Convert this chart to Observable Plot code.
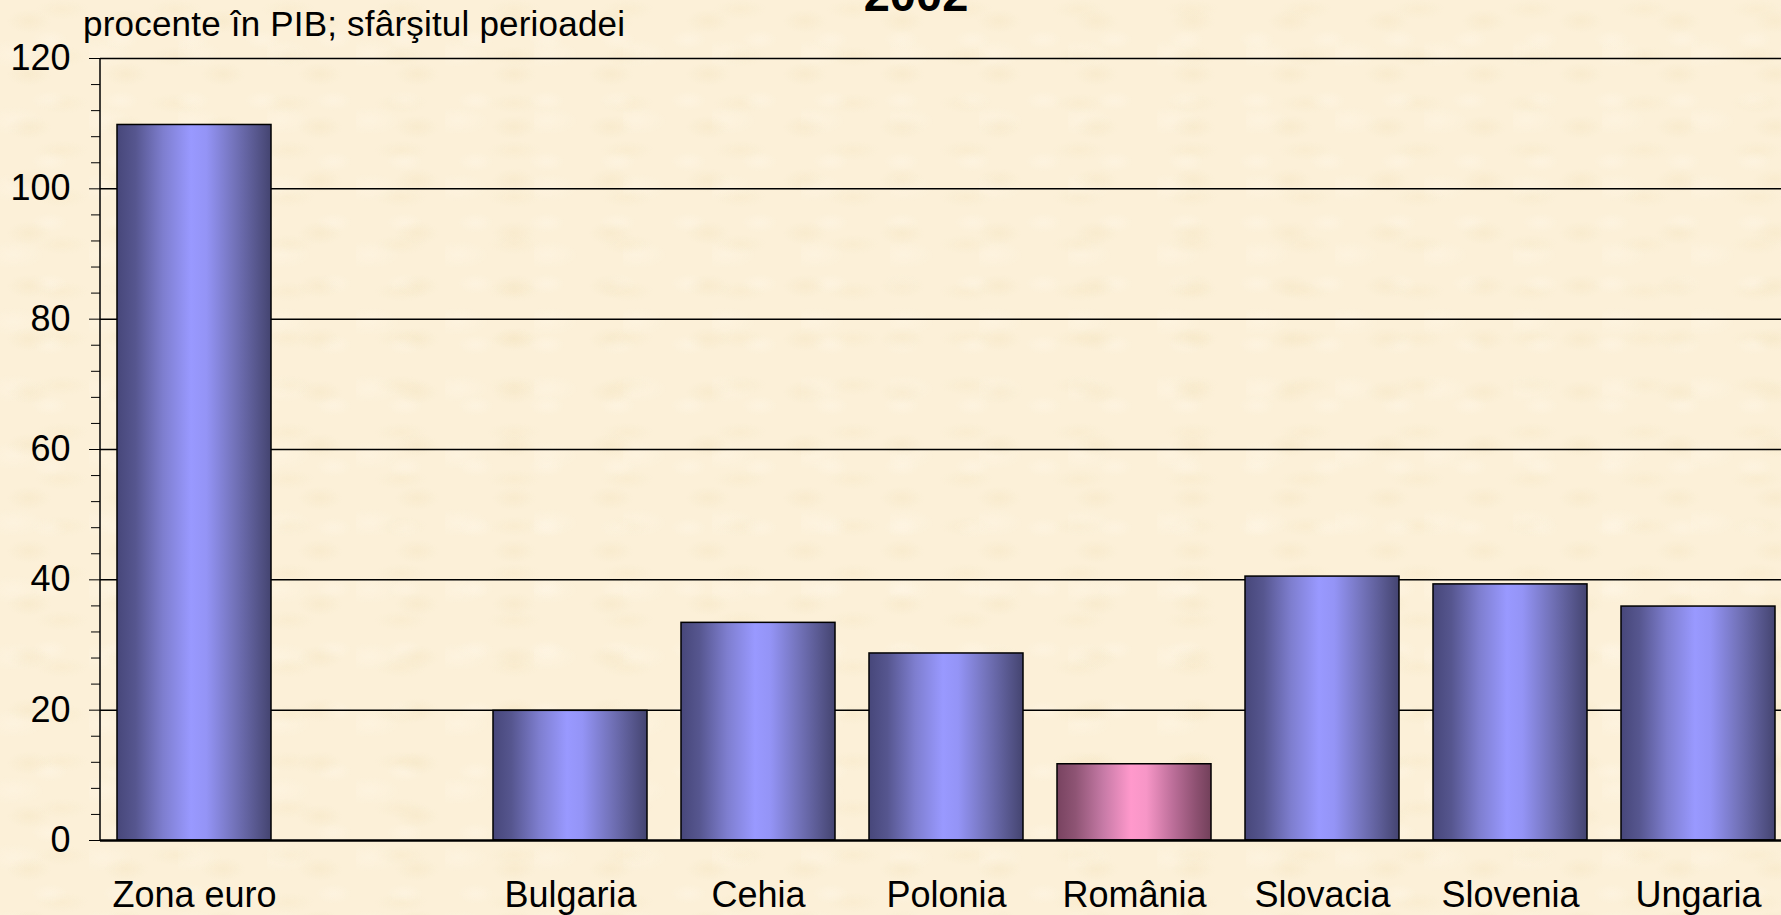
<!DOCTYPE html>
<html>
<head>
<meta charset="utf-8">
<script src="https://cdn.jsdelivr.net/npm/d3@7"></script>
<script src="https://cdn.jsdelivr.net/npm/@observablehq/plot@0.6"></script>
<style>
  html, body { margin: 0; padding: 0; overflow: hidden; }
  body {
    width: 1781px; height: 915px;
    font-family: "Liberation Sans", Arial, sans-serif;
    color: #000;
    background-color: #FCF0D8;
    background-image:
      radial-gradient(ellipse 22px 12px at 30% 40%, rgba(242,226,188,0.35), transparent),
      radial-gradient(ellipse 18px 10px at 70% 65%, rgba(255,247,232,0.45), transparent),
      radial-gradient(ellipse 26px 10px at 55% 20%, rgba(244,229,192,0.3), transparent),
      radial-gradient(ellipse 30px 14px at 15% 80%, rgba(255,247,232,0.4), transparent);
    background-size: 97px 53px, 71px 61px, 113px 47px, 89px 67px;
  }
  #header { position: relative; height: 45px; }
  #title {
    position: absolute; left: 0; width: 1832px; top: -29px;
    text-align: center; font-weight: bold; font-size: 47px; line-height: 47px;
  }
  #subtitle {
    position: absolute; left: 83px; top: 6px;
    font-size: 35px; line-height: 35px; white-space: nowrap; letter-spacing: 0.2px;
  }
</style>
</head>
<body>
<div id="header">
  <div id="title">2002</div>
  <div id="subtitle">procente în PIB; sfârşitul perioadei</div>
</div>
<div id="chart"></div>
<script>
// ---- data ----
const categories = ["Zona euro", "", "Bulgaria", "Cehia", "Polonia", "România", "Slovacia", "Slovenia", "Ungaria"];
const countries = ["Zona euro", "Bulgaria", "Cehia", "Polonia", "România", "Slovacia", "Slovenia", "Ungaria"];
const values = [109.8, 19.9, 33.4, 28.7, 11.7, 40.5, 39.3, 35.9];
const highlighted = ["România"];
const yMajorTicks = [0, 20, 40, 60, 80, 100, 120];
const yMinorTicks = [4, 8, 12, 16, 24, 28, 32, 36, 44, 48, 52, 56, 64, 68, 72, 76, 84, 88, 92, 96, 104, 108, 112, 116];

const data = countries.map((c, i) => ({country: c, value: values[i]}));

const SVGNS = "http://www.w3.org/2000/svg";

function gradientDefs() {
  const defs = document.createElementNS(SVGNS, "defs");
  const specs = [
    ["gBlue", [[0, "#47477A"], [0.12, "#56568F"], [0.3, "#7E7ECF"], [0.48, "#9999FF"], [0.58, "#9494F6"], [0.75, "#7575BE"], [0.9, "#58588F"], [1, "#444470"]]],
    ["gPink", [[0, "#784360"], [0.12, "#8E5474"], [0.3, "#C67AA6"], [0.48, "#FF99CC"], [0.58, "#F796C7"], [0.75, "#BD6F9A"], [0.9, "#8E5172"], [1, "#72405A"]]]
  ];
  for (const [id, stops] of specs) {
    const g = document.createElementNS(SVGNS, "linearGradient");
    g.setAttribute("id", id);
    g.setAttribute("x1", "0"); g.setAttribute("x2", "1");
    g.setAttribute("y1", "0"); g.setAttribute("y2", "0");
    for (const [o, c] of stops) {
      const s = document.createElementNS(SVGNS, "stop");
      s.setAttribute("offset", o);
      s.setAttribute("stop-color", c);
      g.appendChild(s);
    }
    defs.appendChild(g);
  }
  return defs;
}

function leftAxisLine(index, scales, values, dimensions) {
  const line = document.createElementNS(SVGNS, "line");
  const x = dimensions.marginLeft;
  line.setAttribute("x1", x);
  line.setAttribute("x2", x);
  line.setAttribute("y1", scales.y(0));
  line.setAttribute("y2", scales.y(120));
  line.setAttribute("stroke", "black");
  line.setAttribute("stroke-width", 1.5);
  return line;
}

const plot = Plot.plot({
  width: 1781,
  height: 870,
  marginLeft: 100,
  marginRight: -11,
  marginTop: 13,
  marginBottom: 75,
  style: {
    background: "transparent",
    color: "black",
    fontFamily: "'Liberation Sans', Arial, sans-serif",
    overflow: "visible"
  },
  x: {domain: categories, paddingInner: 0.18, paddingOuter: 0.09, align: 0.5, axis: null},
  y: {domain: [0, 120], axis: null},
  marks: [
    gradientDefs,
    Plot.ruleY(yMajorTicks.filter(d => d > 0), {stroke: "black", strokeWidth: 1.5}),
    Plot.barY(data, {
      filter: d => !highlighted.includes(d.country),
      x: "country", y: "value",
      fill: "url(#gBlue)", stroke: "black", strokeWidth: 1.5
    }),
    Plot.barY(data, {
      filter: d => highlighted.includes(d.country),
      x: "country", y: "value",
      fill: "url(#gPink)", stroke: "black", strokeWidth: 1.5
    }),
    Plot.ruleY([0], {stroke: "black", strokeWidth: 2.5}),
    leftAxisLine,
    Plot.axisY({ticks: yMinorTicks, tickSize: 9, tickFormat: () => "", label: null, stroke: "black"}),
    Plot.axisY({ticks: yMajorTicks, tickSize: 11, tickPadding: 19, fontSize: 36, label: null, stroke: "black", fill: "black"}),
    Plot.axisX({tickSize: 0, tickPadding: 41, fontSize: 36, label: null, fill: "black"})
  ]
});

document.getElementById("chart").appendChild(plot);
</script>
</body>
</html>
